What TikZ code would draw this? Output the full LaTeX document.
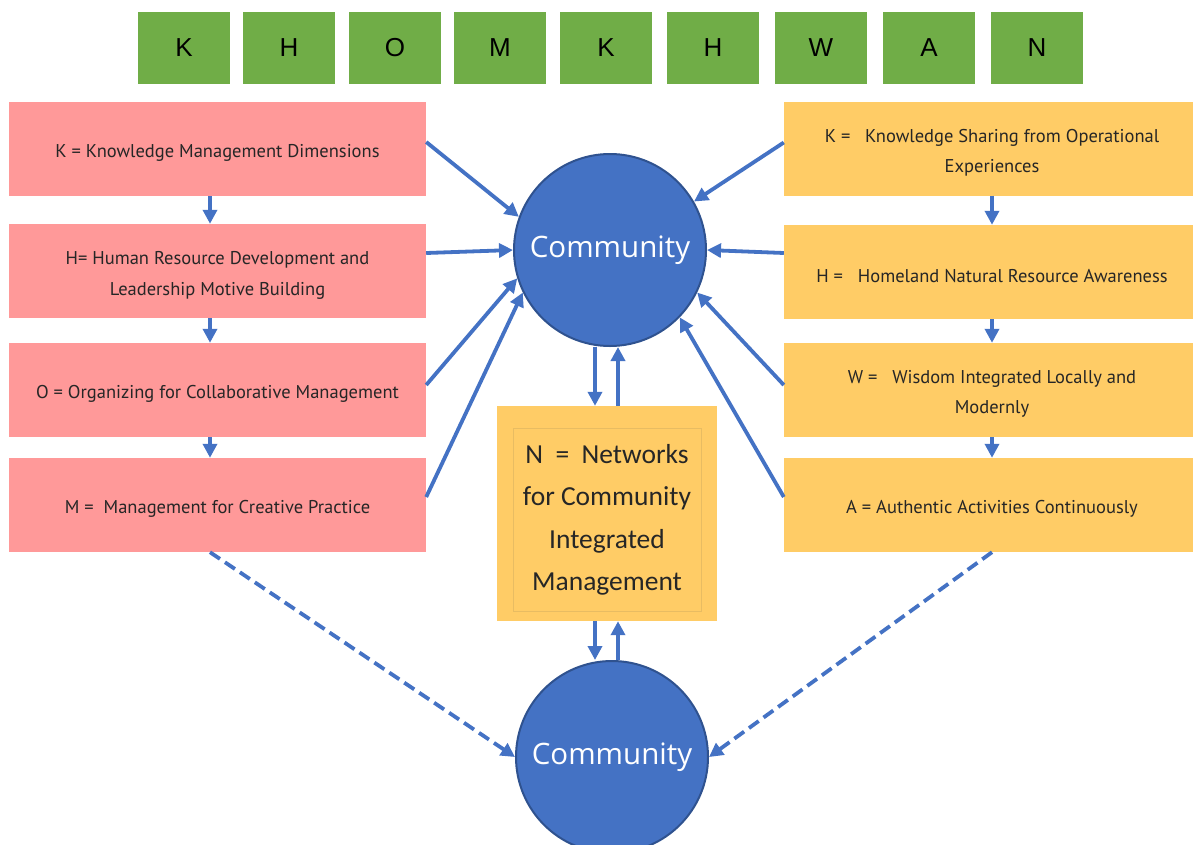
\documentclass[tikz,border=0pt]{standalone}
\usepackage{fontspec}
\setmainfont{PT Sans}
\newfontfamily\circfont{Open Sans}
\newfontfamily\nfont{Carlito}
\newfontfamily\letfont{Liberation Sans}
\usetikzlibrary{arrows.meta}
\definecolor{gbox}{HTML}{70AD47}
\definecolor{pinkc}{HTML}{FF9999}
\definecolor{yelc}{HTML}{FFCC66}
\definecolor{bluec}{HTML}{4472C4}
\definecolor{blued}{HTML}{2F528F}
\definecolor{ninner}{HTML}{E8BC62}
\definecolor{txt}{HTML}{262626}
\begin{document}
\begin{tikzpicture}[x=1pt,y=-1pt,
  letterbox/.style={fill=gbox, minimum width=92pt, minimum height=72pt, inner sep=0pt, font=\letfont\fontsize{26}{30}\selectfont},
  pinkbox/.style={fill=pinkc, minimum width=417pt, minimum height=94pt, inner sep=0pt},
  yelbox/.style={fill=yelc, minimum width=409pt, minimum height=94pt, inner sep=0pt},
  lbl/.style={text=txt, align=center, inner sep=0pt, font=\fontsize{18.5}{31}\selectfont},
  comm/.style={circle, fill=bluec, draw=blued, line width=2pt, minimum size=192pt, inner sep=0pt, text=white, font=\circfont\fontsize{29.5}{34}\selectfont},
  arr/.style={draw=bluec, line width=3.8pt, -{Triangle[length=14pt,width=14pt]}},
  darr/.style={arr, dash pattern=on 12pt off 6pt}
]
\useasboundingbox (0,0) rectangle (1193,844);
% letters
\node[letterbox] (l1) at (184,48) {K};
\node[letterbox] (l2) at (289,48) {H};
\node[letterbox] (l3) at (395,48) {O};
\node[letterbox] (l4) at (500,48) {M};
\node[letterbox] (l5) at (606,48) {K};
\node[letterbox] (l6) at (713,48) {H};
\node[letterbox] (l7) at (821,48) {W};
\node[letterbox] (l8) at (929,48) {A};
\node[letterbox] (l9) at (1037,48) {N};
% left boxes
\node[pinkbox] (pK) at (217.5,149) {};
\node[pinkbox] (pH) at (217.5,271) {};
\node[pinkbox] (pO) at (217.5,390) {};
\node[pinkbox] (pM) at (217.5,505) {};
\node[lbl] (tpK) at (217.5,153) {K = Knowledge Management Dimensions};
\node[lbl] (tpH) at (217.5,275) {H= Human Resource Development and\\Leadership Motive Building};
\node[lbl] (tpO) at (217.5,394) {O = Organizing for Collaborative Management};
\node[lbl] (tpM) at (217.5,509) {M =\ \ Management for Creative Practice};
% right boxes
\node[yelbox] (yK) at (988.5,148.5) {};
\node[yelbox] (yH) at (988.5,272) {};
\node[yelbox] (yW) at (988.5,390) {};
\node[yelbox] (yA) at (988.5,505) {};
\node[lbl, font=\fontsize{18.5}{30}\selectfont] (tyK) at (992,152.5) {K =\ \ \ Knowledge Sharing from Operational\\Experiences};
\node[lbl] (tyH) at (992,276) {H =\ \ \ Homeland Natural Resource Awareness};
\node[lbl, font=\fontsize{18.5}{30}\selectfont] (tyW) at (992,394) {W =\ \ \ Wisdom Integrated Locally and\\Modernly};
\node[lbl] (tyA) at (992,509) {A = Authentic Activities Continuously};
% circles
\node[comm] (c1) at (610,250) {Community};
\node[comm] (c2) at (612,757) {Community};
% N box
\node[fill=yelc, minimum width=220pt, minimum height=215pt, inner sep=0pt] (N) at (607,513.5) {};
\node[draw=ninner, line width=0.8pt, minimum width=188pt, minimum height=183pt, inner sep=0pt, align=center, text=txt,
      font=\nfont\fontsize{27.5}{42.5}\selectfont] (Ni) at (607,520) {N\ \ =\ \ Networks\\for Community\\Integrated\\Management};
% helper x positions
\coordinate (xa) at (595,0);
\coordinate (xb) at (618,0);
\coordinate (xp) at (210,0);
\coordinate (xy) at (992,0);
% vertical arrows left
\draw[arr] (pK.south -| xp) -- (pH.north -| xp);
\draw[arr] (pH.south -| xp) -- (pO.north -| xp);
\draw[arr] (pO.south -| xp) -- (pM.north -| xp);
% vertical arrows right
\draw[arr] (yK.south -| xy) -- (yH.north -| xy);
\draw[arr] (yH.south -| xy) -- (yW.north -| xy);
\draw[arr] (yW.south -| xy) -- (yA.north -| xy);
% to top circle from left
\draw[arr] ([yshift=7pt]pK.east) -- (c1.160);
\draw[arr] ([yshift=18pt]pH.east) -- (c1.180);
\draw[arr] ([yshift=5pt]pO.east) -- (c1.197);
\draw[arr] ([yshift=8pt]pM.east) -- (c1.206);
% from right
\draw[arr] ([yshift=6pt]yK.west) -- (c1.30);
\draw[arr] ([yshift=19pt]yH.west) -- (c1.0);
\draw[arr] ([yshift=5pt]yW.west) -- (c1.334);
\draw[arr] ([yshift=8pt]yA.west) -- (c1.316);
% circle <-> N
\draw[arr] (c1.south -| xa) -- (N.north -| xa);
\draw[arr] (N.north -| xb) -- (c1.south -| xb);
\draw[arr] (N.south -| xa) -- (c2.north -| xa);
\draw[arr] (c2.north -| xb) -- (N.south -| xb);
% dashed
\draw[darr] (pM.south -| xp) -- (c2.west);
\draw[darr] (yA.south -| xy) -- (c2.east);
\end{tikzpicture}
\end{document}
